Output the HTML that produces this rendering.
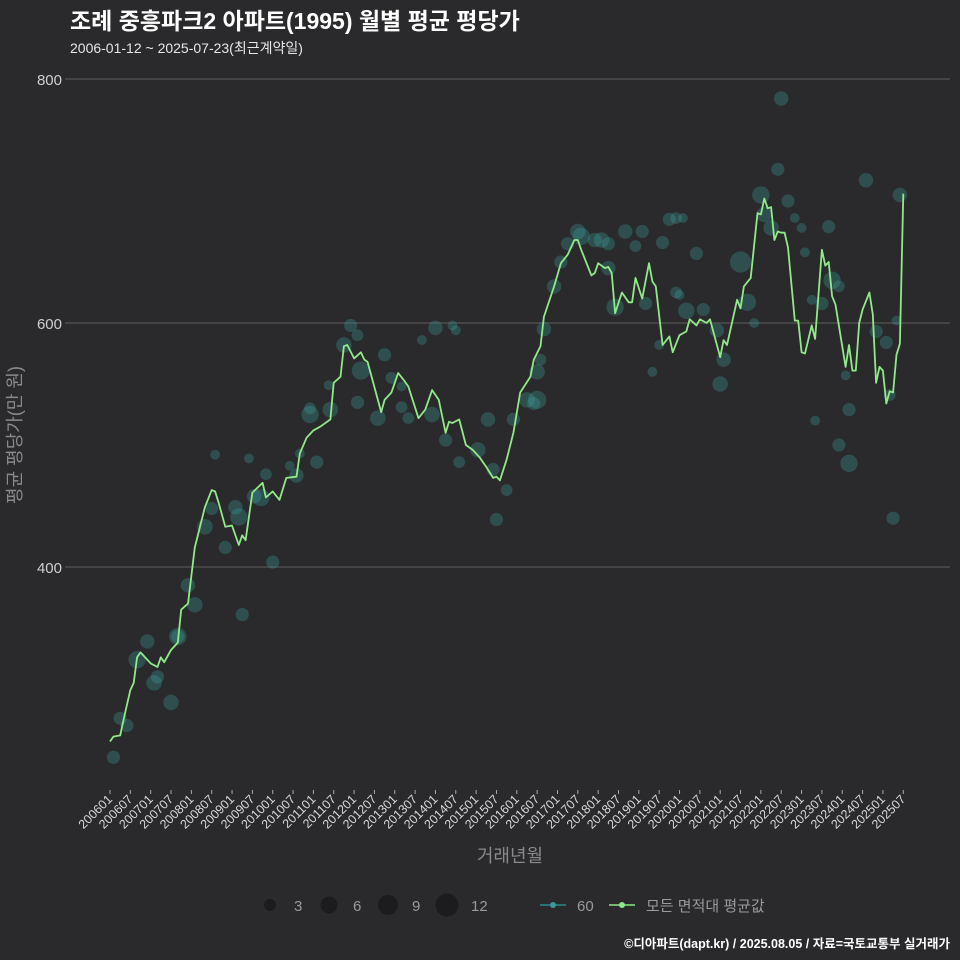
<!DOCTYPE html>
<html><head><meta charset="utf-8"><style>
html,body{margin:0;padding:0;background:#2a2a2c;}
svg{display:block;font-family:"Liberation Sans","Noto Sans CJK KR",sans-serif;}
</style></head><body>
<svg id="chart" width="960" height="960" viewBox="0 0 960 960" xmlns="http://www.w3.org/2000/svg">
<rect width="960" height="960" fill="#2a2a2c"/>
<text x="70" y="29" font-size="23" font-weight="bold" fill="#ffffff">조례 중흥파크2 아파트(1995) 월별 평균 평당가</text>
<text x="70" y="53" font-size="14" fill="#e6e6e6">2006-01-12 ~ 2025-07-23(최근계약일)</text>
<g id="grid"></g>
<g id="bubbles"></g>
<g id="line"></g>
<g id="xaxis"></g>
<text transform="translate(21,435) rotate(-90)" text-anchor="middle" font-size="18" fill="#8a8a8a">평균 평당가(만 원)</text>
<text x="510" y="862" text-anchor="middle" font-size="18" fill="#8a8a8a">거래년월</text>
<g font-size="15" fill="#9a9a9a">
<circle cx="270" cy="905" r="6" fill="#1c1c1e"/>
<text x="294" y="911" fill="#9a9a9a">3</text>
<circle cx="329" cy="905" r="8.5" fill="#1c1c1e"/>
<text x="353" y="911" fill="#9a9a9a">6</text>
<circle cx="388" cy="905" r="10" fill="#1c1c1e"/>
<text x="412" y="911" fill="#9a9a9a">9</text>
<circle cx="447" cy="905" r="11.5" fill="#1c1c1e"/>
<text x="471" y="911" fill="#9a9a9a">12</text>
<line x1="540" y1="905" x2="566" y2="905" stroke="#2a8a8a" stroke-width="1.5"/>
<circle cx="553" cy="905" r="3" fill="#3a9a9a"/>
<text x="577" y="911" fill="#9a9a9a">60</text>
<line x1="609" y1="905" x2="635" y2="905" stroke="#8ee68a" stroke-width="1.5"/>
<circle cx="622" cy="905" r="3" fill="#8ee68a"/>
<text x="646" y="911" fill="#9a9a9a">모든 면적대 평균값</text>
</g>
<text x="950" y="948" text-anchor="end" font-size="12.5" font-weight="bold" fill="#ffffff">©디아파트(dapt.kr) / 2025.08.05 / 자료=국토교통부 실거래가</text>
</svg>
<script>
const yTicks = [400, 600, 800];
const xTickLabels = ["200601","200607","200701","200707","200801","200807","200901","200907","201001","201007","201101","201107","201201","201207","201301","201307","201401","201407","201501","201507","201601","201607","201701","201707","201801","201807","201901","201907","202001","202007","202101","202107","202201","202207","202301","202307","202401","202407","202501","202507"];
// average line: month index since 2006-01, value (만원/평)
const lineMonths = [0,1,3,4,6,7,8,9,12,14,15,16,18,20,21,23,25,28,30,31,32,34,36,38,39,40,42,45,46,48,50,52,55,56,58,60,62,65,66,68,69,70,72,74,75,76,80,81,83,85,87,88,91,93,95,97,99,100,101,103,105,107,109,111,113,114,115,117,119,121,124,125,127,128,131,133,135,137,138,139,142,143,144,146,147,148,149,151,153,154,155,157,159,160,161,163,165,166,168,170,171,173,174,176,177,180,181,182,185,186,187,189,191,192,193,194,195,196,197,198,199,200,202,203,204,205,207,208,210,211,212,213,214,217,218,219,220,221,222,224,225,226,227,228,229,230,231,232,233,234];
const lineValues = [257,261,262,275,299,305,326,330,321,318,326,322,332,338,365,370,416,449,463,462,453,433,434,418,426,422,461,469,457,462,455,473,474,493,506,512,515,521,551,556,581,582,571,576,570,568,527,537,543,559,552,548,522,529,545,537,510,519,518,521,500,496,490,482,473,474,471,488,510,543,556,570,581,605,630,649,656,668,668,660,639,641,649,645,646,641,608,625,617,617,637,620,649,634,630,582,589,576,590,593,603,598,603,600,603,572,586,582,619,612,630,637,690,689,702,694,695,668,675,674,674,662,602,602,576,575,598,587,660,647,650,622,615,564,582,561,561,600,611,625,607,551,564,561,534,544,543,574,583,706];
// transactions (bubbles): month, value, count
const bubbleMonths = [1,3,5,8,11,13,14,18,20,20,25,23,28,30,31,34,37,38,39,41,42.5,44.5,46,48,53,55,56,59,59,61,64.5,65,69,71,73,74,73,79,81,83,86,86,88,92,95,101,96,102,99,103,108.5,111.5,113,114,117,119,123,125,126,126,127,128,131,133,135,138,139,143,145,147,147,149,152,155,157,158,163,165,167,169,167,160,162,168,173,175,179,181,180,186,188,192,193,195,198,197,200,202,204,205,207,210,212,213,215,217,218,215,218,223,226,229,230,231,232,233,208,190,170];
const bubbleValues = [244,276,270,324,339,305,310,289,343,343,369,385,433,448,492,416,449,441,361,489,458,457,476,404,483,475,493,525,530,486,549,529,582,598,590,561,535,522,574,555,531,548,522,586,525,598,596,594,504,486,496,521,480,439,463,521,537,534,537,560,570,595,630,650,665,675,671,668,668,665,645,613,675,663,675,616,666,685,686,686,625,560,582,623,657,611,594,570,550,650,617,705,689,678,784,726,700,686,678,658,619,616,679,635,630,557,529,500,485,717,593,584,541,440,602,705,520,600,610];
const bubbleCounts = [3,3,3,7,4,5,3,5,3,7,5,4,5,3,1,3,4,7,3,1,4,7,2,3,1,4,1,7,2,3,1,5,5,3,2,8,3,5,3,2,2,1,2,1,5,1,4,1,3,2,5,4,3,3,2,3,5,3,8,5,2,4,4,3,3,5,7,4,5,3,4,7,4,2,3,3,3,3,2,1,2,1,1,1,3,3,4,4,5,12,7,7,5,5,4,3,3,1,1,1,1,3,3,7,2,1,3,3,7,4,3,3,2,3,1,4,1,1,6,2];

const NS = "http://www.w3.org/2000/svg";
const X0 = 110, PXM = 3.39;
function xScale(m){ return X0 + m * PXM; }
function yScale(v){ return 79 + (800 - v) * 1.22; }
function rScale(c){ return 2.6 + Math.sqrt(c) * 2.3; }
function mk(tag, attrs, parent){ const e = document.createElementNS(NS, tag); for (const k in attrs) e.setAttribute(k, attrs[k]); parent.appendChild(e); return e; }

const grid = document.getElementById('grid');
yTicks.forEach(t => {
  const l = mk('line', {x1:65, x2:950, y1:yScale(t), y2:yScale(t), stroke:'#5e5e5e', 'stroke-width':1}, grid);
  
  
  const tx = mk('text', {x:62, y:yScale(t)+6, 'text-anchor':'end', 'font-size':15, fill:'#cfcfcf'}, grid);
  tx.textContent = t;
  
  
});

const xa = document.getElementById('xaxis');
xTickLabels.forEach((lab, i) => {
  const x = xScale(i * 6);
  const tk = mk('line', {x1:x, x2:x, y1:790, y2:794, stroke:'#aaaaaa', 'stroke-width':1}, xa);
  
  
  const tx = mk('text', {transform:'translate(' + (x + 3) + ',800) rotate(-45)', 'text-anchor':'end', 'font-size':12.5, fill:'#d8d8d8'}, xa);
  tx.textContent = lab;
  
  
});

const bg = document.getElementById('bubbles');
bubbleMonths.forEach((m, i) => {
  const c = mk('circle', {cx:xScale(m), cy:yScale(bubbleValues[i]), r:rScale(bubbleCounts[i]), fill:'rgba(58,160,155,0.32)'}, bg);
  
  
});

const lg = document.getElementById('line');
const d = lineMonths.map((m, i) => (i ? 'L' : 'M') + xScale(m).toFixed(1) + ',' + yScale(lineValues[i]).toFixed(1)).join('');
const p = mk('path', {d:d, fill:'none', stroke:'#90ea88', 'stroke-width':1.8, 'stroke-linejoin':'round'}, lg);


</script>
</body></html>
